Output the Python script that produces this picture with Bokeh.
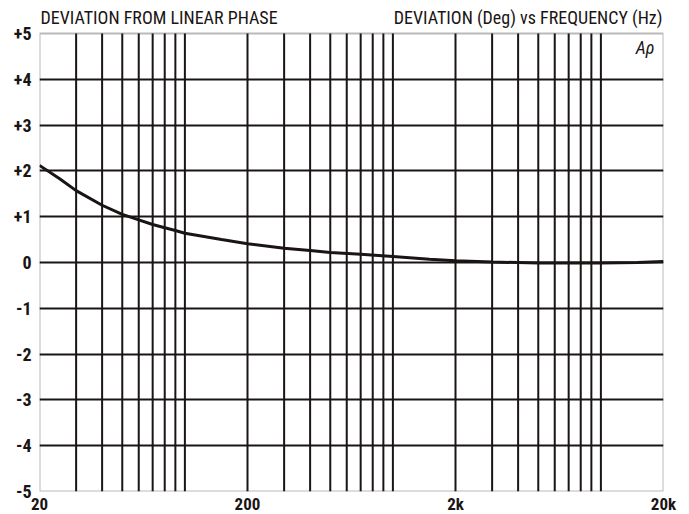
from bokeh.plotting import figure
from bokeh.models import FixedTicker, Label, Range1d, BoxAnnotation
from bokeh.embed import file_html
from bokeh.resources import INLINE

# Data
freq_hz = [20, 25, 30, 40, 50, 60, 70, 80, 90, 100, 150, 200, 300, 400, 500, 700,
           1000, 1500, 2000, 3000, 5000, 7000, 10000, 15000, 20000]
deviation_deg = [2.12, 1.83, 1.57, 1.25, 1.05, 0.93, 0.83, 0.76, 0.70, 0.64, 0.50, 0.41,
                 0.31, 0.26, 0.22, 0.18, 0.13, 0.07, 0.04, 0.01, -0.01, -0.01, -0.01, 0.0, 0.02]

x_tick_values = [20, 200, 2000, 20000]
x_tick_labels = ["20", "200", "2k", "20k"]
y_tick_values = [-5, -4, -3, -2, -1, 0, 1, 2, 3, 4, 5]
y_tick_labels = ["-5", "-4", "-3", "-2", "-1", "0", "+1", "+2", "+3", "+4", "+5"]
x_grid_values = [m * d for d in (10, 100, 1000, 10000) for m in range(2, 11)
                 if 20 < m * d < 20000]

title_left = "DEVIATION FROM LINEAR PHASE"
title_right = "DEVIATION (Deg) vs FREQUENCY (Hz)"
logo = "Aρ"

FONT = "'Liberation Sans Narrow', 'Arial Narrow', 'Roboto Condensed', sans-serif"
INK = "#1a1414"

x_lo, x_hi = x_tick_values[0], x_tick_values[-1]
y_lo, y_hi = y_tick_values[0], y_tick_values[-1]
px_per_unit = 458 / (y_hi - y_lo)
y_top = y_hi + 33 / px_per_unit   # headroom inside the frame for the header texts

p = figure(x_axis_type="log", output_backend="svg", toolbar_location=None,
           frame_width=624, frame_height=491,
           x_range=Range1d(x_lo, x_hi), y_range=Range1d(y_lo, y_top),
           min_border_left=39, min_border_right=26, min_border_top=0, min_border_bottom=18)
p.background_fill_color = "white"
p.border_fill_color = "white"
p.outline_line_color = None

p.xaxis.ticker = FixedTicker(ticks=x_tick_values)
p.xaxis.major_label_overrides = {v: l for v, l in zip(x_tick_values, x_tick_labels)}
p.yaxis.ticker = FixedTicker(ticks=y_tick_values)
p.yaxis.major_label_overrides = {v: l for v, l in zip(y_tick_values, y_tick_labels)}

for ax in (p.xaxis, p.yaxis):
    ax.axis_line_color = None
    ax.major_tick_line_color = None
    ax.minor_tick_line_color = None
    ax.major_tick_out = 0
    ax.major_tick_in = 0
    ax.minor_tick_out = 0
    ax.minor_tick_in = 0
    ax.major_label_text_font = FONT
    ax.major_label_text_font_style = "bold"
    ax.major_label_text_color = INK
p.yaxis.major_label_text_font_size = "18px"
p.xaxis.major_label_text_font_size = "17px"
p.xaxis.major_label_standoff = 2
p.yaxis.major_label_standoff = 8

p.xgrid.visible = False
p.ygrid.ticker = FixedTicker(ticks=y_tick_values[1:-1])
p.ygrid.grid_line_color = INK
p.ygrid.grid_line_width = 2

# vertical grid lines (limited to the chart box)
p.segment(x0=x_grid_values, x1=x_grid_values,
          y0=[y_lo] * len(x_grid_values), y1=[y_hi] * len(x_grid_values),
          line_color=INK, line_width=2)

# chart box
p.add_layout(BoxAnnotation(left=x_lo, right=x_hi, bottom=y_lo, top=y_hi,
                           fill_color=None, line_color=INK, line_width=2))

p.line(freq_hz, deviation_deg, line_color=INK, line_width=3)

p.add_layout(Label(x=x_lo, y=y_hi, x_offset=1, y_offset=6, text=title_left,
                   text_font=FONT, text_font_size="18px",
                   text_color=INK, text_baseline="bottom", text_align="left"))
p.add_layout(Label(x=x_hi, y=y_hi, x_offset=-1, y_offset=6, text=title_right,
                   text_font=FONT, text_font_size="18px", text_color=INK,
                   text_baseline="bottom", text_align="right"))
p.add_layout(Label(x=x_hi, y=y_hi, x_offset=-9, y_offset=-3, text=logo, text_font=FONT,
                   text_font_size="18px", text_font_style="italic", text_color=INK,
                   text_baseline="top", text_align="right"))

open("out.html", "w").write(file_html(p, INLINE))
